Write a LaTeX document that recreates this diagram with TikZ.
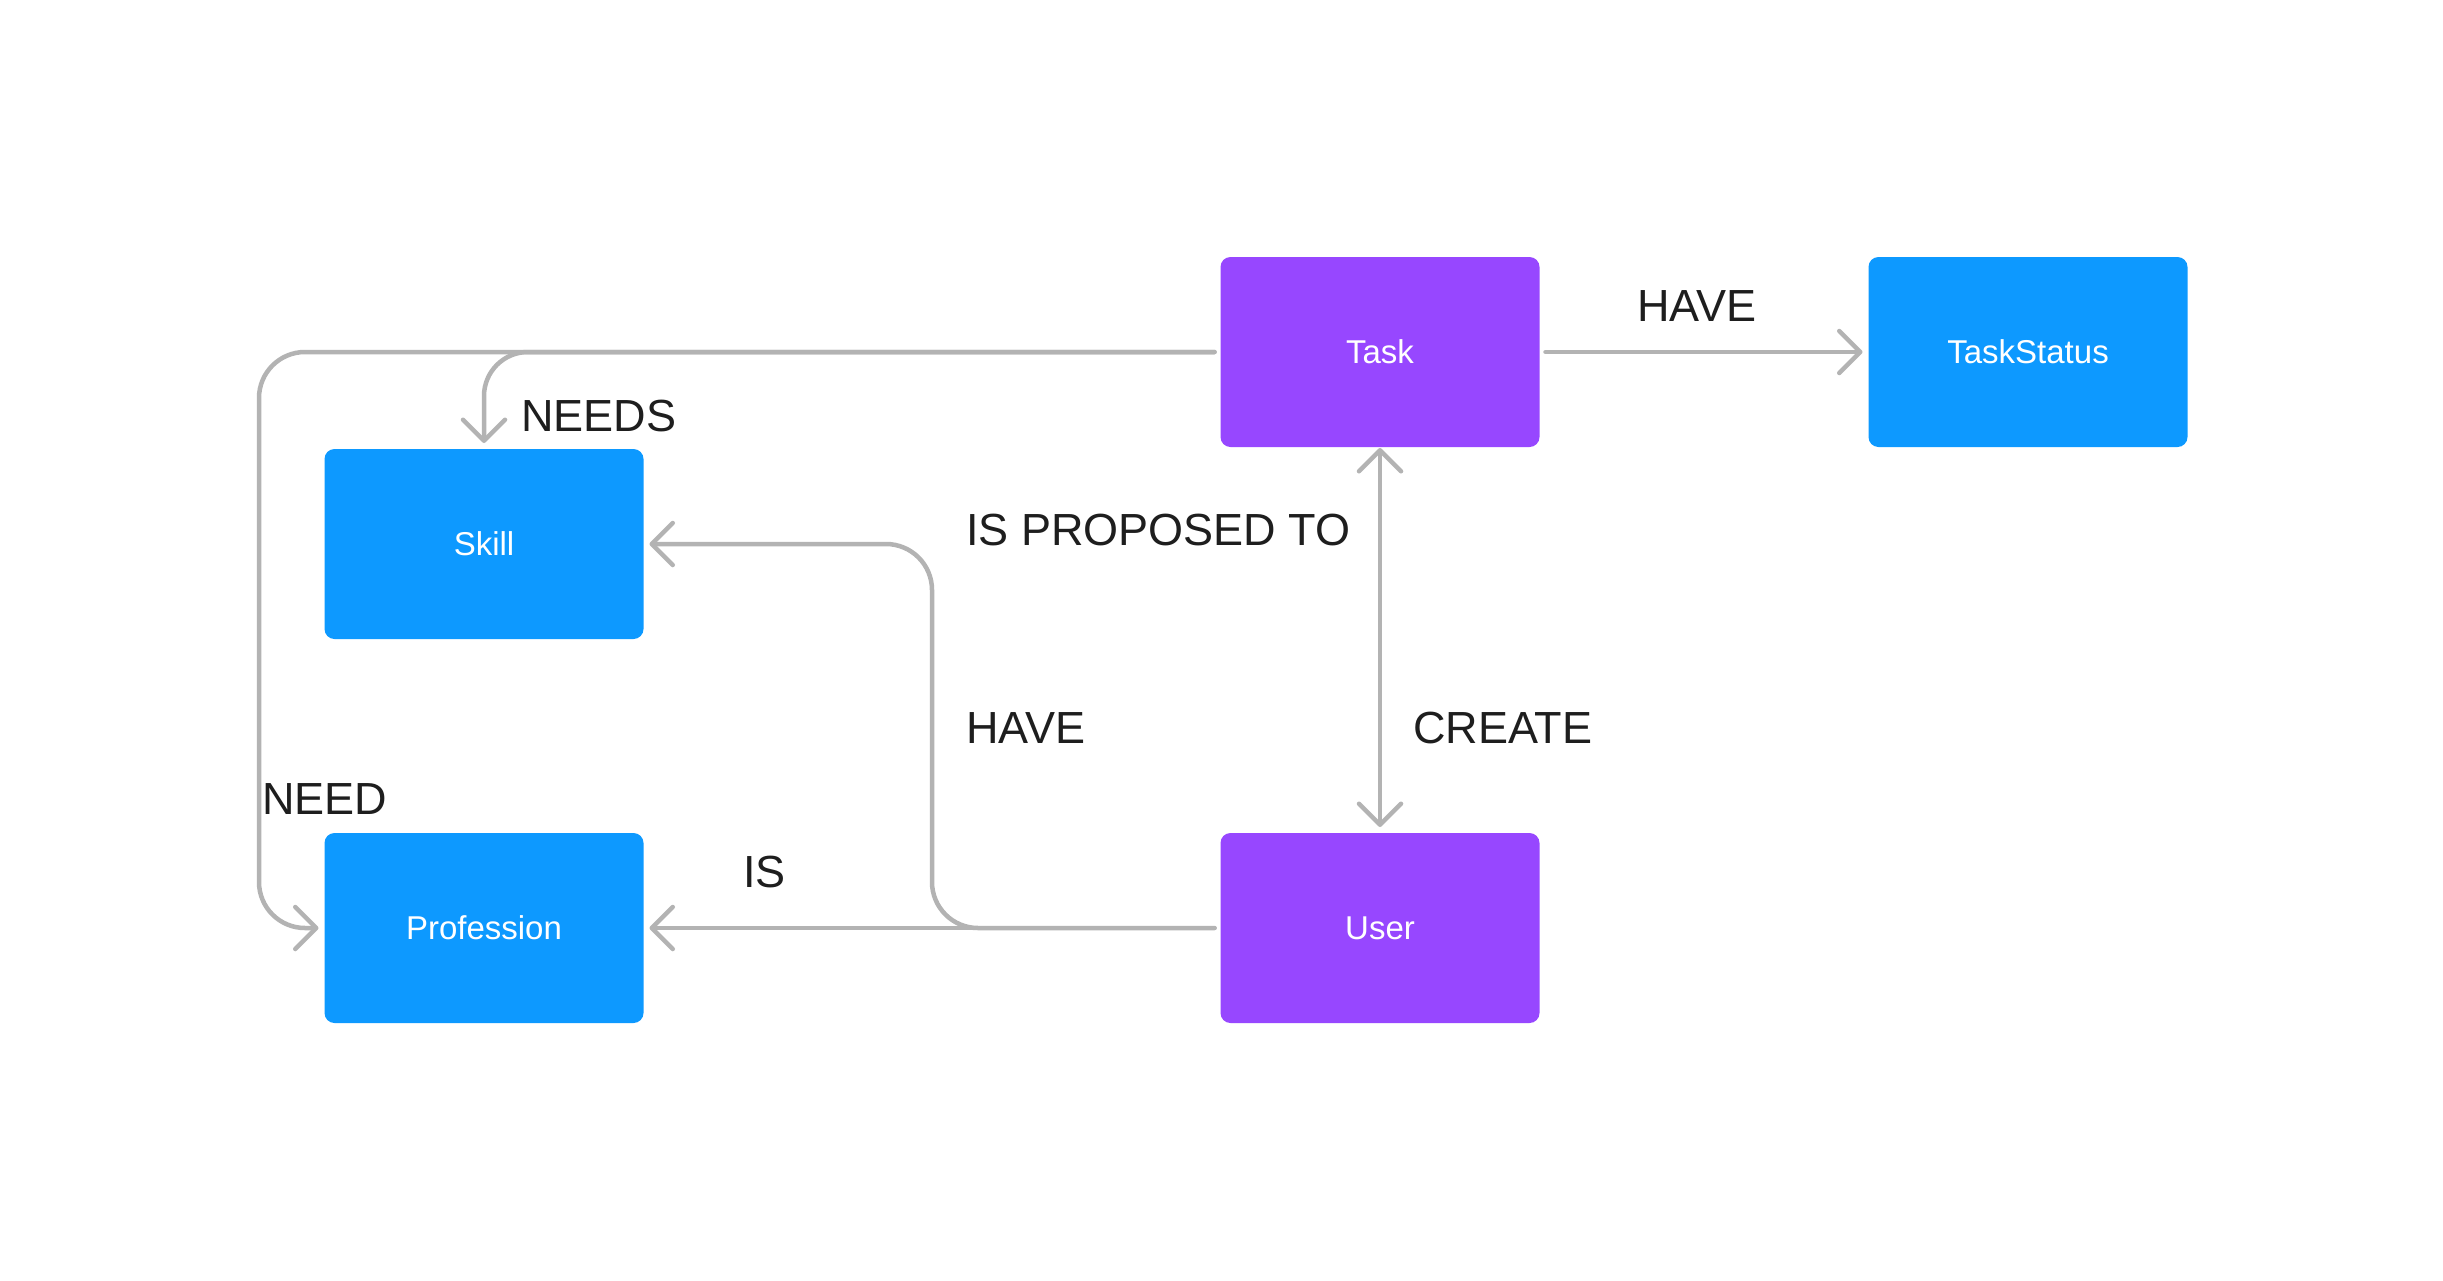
\documentclass[tikz,border=0pt]{standalone}
\usepackage{fontspec}
\setmainfont{Liberation Sans}
\usetikzlibrary{arrows.meta}
\definecolor{boxblue}{HTML}{0D99FF}
\definecolor{boxpurple}{HTML}{9747FF}
\definecolor{linegray}{HTML}{B3B3B3}
\definecolor{labelblack}{HTML}{1E1E1E}
\tikzset{
  entity/.style={rectangle, rounded corners=10pt, minimum width=319pt, minimum height=190pt,
    inner sep=0pt, outer sep=6pt, text=white, font=\fontsize{33}{36}\selectfont},
  bluebox/.style={entity, fill=boxblue},
  purplebox/.style={entity, fill=boxpurple},
  conn/.style={draw=linegray, line width=4.5pt, line cap=round, line join=round,
    -{Straight Barb[length=21pt,width=42pt,round]}},
  biconn/.style={conn, {Straight Barb[length=21pt,width=42pt,round]}-{Straight Barb[length=21pt,width=42pt,round]}},
  rel/.style={anchor=base west, inner sep=0pt, text=labelblack, font=\fontsize{45}{50}\selectfont}
}
\begin{document}
\begin{tikzpicture}[x=1pt,y=-1pt]
\path[use as bounding box, fill=white] (0,0) rectangle (2443,1280);
% entities
\node[purplebox] (task) at (1380,352) {Task};
\node[bluebox] (status) at (2028,352) {TaskStatus};
\node[bluebox] (skill) at (484,544) {Skill};
\node[bluebox] (prof) at (484,928) {Profession};
\node[purplebox] (user) at (1380,928) {User};
% bend points
\coordinate (needcorner) at (259,928);
\coordinate (havecorner) at (932,544);
% connectors
\draw[conn, rounded corners=46pt] (task.west) -| (needcorner) -- (prof.west);
\draw[conn, rounded corners=44pt] (task.west) -| (skill.north);
\draw[conn] (task.east) -- (status.west);
\draw[biconn, shorten <=-5pt] (task.south) -- (user.north);
\draw[conn] (user.west) -- (prof.east);
\draw[conn, rounded corners=46pt] (user.west) -| (havecorner) -- (skill.east);
% labels
\node[rel] (lhave1) at (1637,321) {HAVE};
\node[rel] (lneeds) at (521,431) {NEEDS};
\node[rel] (lprop) at (966,545) {IS PROPOSED TO};
\node[rel] (lhave2) at (966,743) {HAVE};
\node[rel] (lcreate) at (1413,743) {CREATE};
\node[rel] (lneed) at (262,814) {NEED};
\node[rel] (lis) at (743,887) {IS};
\end{tikzpicture}
\end{document}
